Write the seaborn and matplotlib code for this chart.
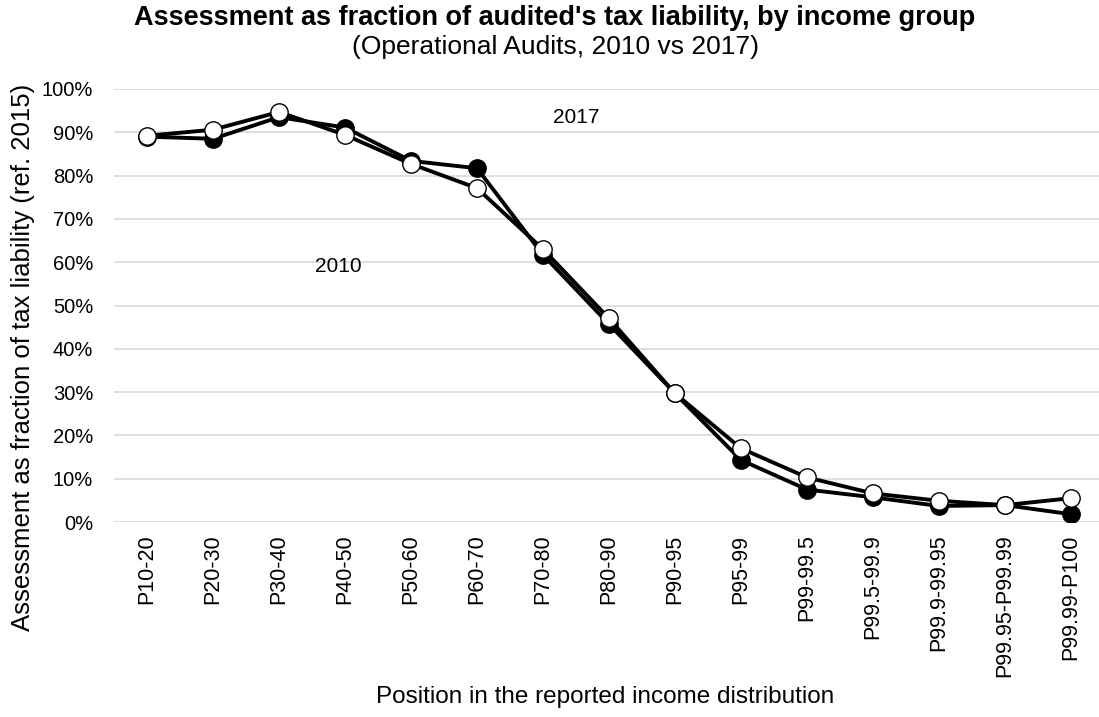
import numpy as np
import pandas as pd
import seaborn as sns
import matplotlib.pyplot as plt
from matplotlib.ticker import PercentFormatter

# income groups (x axis)
groups = ['P10-20', 'P20-30', 'P30-40', 'P40-50', 'P50-60', 'P60-70',
          'P70-80', 'P80-90', 'P90-95', 'P95-99', 'P99-99.5', 'P99.5-99.9',
          'P99.9-99.95', 'P99.95-P99.99', 'P99.99-P100']

# assessment as fraction of tax liability
vals_2010 = [0.890, 0.885, 0.935, 0.911, 0.834, 0.817, 0.617, 0.457, 0.297,
             0.143, 0.075, 0.057, 0.037, 0.039, 0.018]
vals_2017 = [0.892, 0.906, 0.947, 0.894, 0.827, 0.771, 0.630, 0.470, 0.297,
             0.170, 0.103, 0.066, 0.049, 0.039, 0.055]

yticks = np.arange(0, 1.01, 0.1)

df10 = pd.DataFrame({'group': groups, 'value': vals_2010})
df17 = pd.DataFrame({'group': groups, 'value': vals_2017})

sns.set_style('white')
plt.rcParams['font.family'] = ['Liberation Sans', 'DejaVu Sans']
plt.rcParams['text.color'] = 'black'
plt.rcParams['xtick.color'] = 'black'
plt.rcParams['ytick.color'] = 'black'

fig = plt.figure(figsize=(10.99, 7.17), dpi=100)
W, H = 1099, 717
ax = fig.add_axes([114 / W, 1 - 522 / H, 990 / W, 433 / H])

line_kw = dict(color='black', linewidth=2.8, marker='o', markersize=12.5,
               markeredgecolor='black', markeredgewidth=1.0, sort=False)
sns.lineplot(data=df10, x='group', y='value', markerfacecolor='black',
             ax=ax, zorder=3, **line_kw)
sns.lineplot(data=df17, x='group', y='value', markerfacecolor='white',
             ax=ax, zorder=4, **line_kw)

ax.set_xlim(-0.5, len(groups) - 0.5)
ax.set_ylim(0, 1)
ax.set_yticks(yticks)
ax.yaxis.set_major_formatter(PercentFormatter(1.0, decimals=0))
ax.grid(axis='y', color='#d9d9d9', linewidth=1.2)
ax.grid(axis='x', visible=False)
ax.set_axisbelow(True)
for s in ax.spines.values():
    s.set_visible(False)
ax.tick_params(axis='y', length=0, pad=15, labelsize=14.5)
ax.tick_params(axis='x', length=0, pad=9, labelsize=15.5, labelrotation=90)
ax.set_xlabel('')
ax.set_ylabel('')

# series labels
ax.text(7 - 0.5, 0.935, '2017', fontsize=15, ha='center', va='center')
ax.text(3 - 0.1, 0.59, '2010', fontsize=15, ha='center', va='center')

fig.text(555 / W, 1 - 18 / H, "Assessment as fraction of audited's tax liability, by income group",
         fontsize=19.5, fontweight='bold', ha='center', va='center')
fig.text(555 / W, 1 - 47 / H, '(Operational Audits, 2010 vs 2017)',
         fontsize=19, ha='center', va='center')
fig.text(23 / W, 1 - 357 / H, 'Assessment as fraction of tax liability (ref. 2015)',
         fontsize=18.5, rotation=90, ha='center', va='center')
fig.text(605 / W, 1 - 697 / H, 'Position in the reported income distribution',
         fontsize=17.5, ha='center', va='center')

fig.savefig('out.png', dpi=100)
